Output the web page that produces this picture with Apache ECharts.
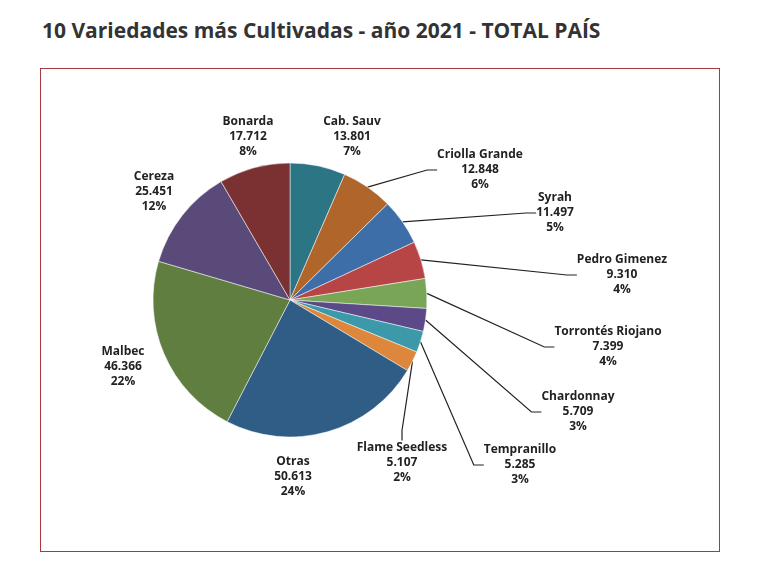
<!DOCTYPE html>
<html>
<head>
<meta charset="utf-8">
<script src="https://cdn.jsdelivr.net/npm/echarts@6/dist/echarts.min.js"></script>
<style>
body{margin:0;background:#fff;font-family:'Open Sans',sans-serif;}
#title{position:absolute;left:42px;top:16px;font:bold 21px 'Open Sans',sans-serif;color:#333;}
#frame{position:absolute;left:40px;top:68px;width:678px;height:482px;border:1.5px solid #a8383f;}
#main{position:absolute;left:0;top:0;width:770px;height:578px;}
</style>
</head>
<body>
<div id="title">10 Variedades más Cultivadas - año 2021 - TOTAL PAÍS</div>
<div id="frame"></div>
<div id="main"></div>
<script>
var names = ['Cab. Sauv','Criolla Grande','Syrah','Pedro Gimenez','Torrontés Riojano','Chardonnay','Tempranillo','Flame Seedless','Otras','Malbec','Cereza','Bonarda'];
var values = [13801,12848,11497,9310,7399,5709,5285,5107,50613,46366,25451,17712];
var percents = [7,6,5,4,4,3,3,2,24,22,12,8];
var colors = ['#2b7585','#b0652b','#3d6ea8','#b84545','#79a556','#5c4a88','#3b99a9','#dc873b','#2f5d85','#5f7e40','#5a4a79','#7b3131'];
var hasLine = [0,1,1,1,1,1,1,1,0,0,0,0];
// label block centres
var labelPos = [[352,137],[480,170],[555,213],[622,275],[608,347],[578,412],[520,465],[402,463],[293,477],[123,367],[154,192],[248,137]];

function fmt(v){return String(v).replace(/\B(?=(\d{3})+(?!\d))/g,'.');}

var myChart = echarts.init(document.getElementById('main'));
var data = names.map(function(n,i){
  return {name:n, value:values[i], pct:percents[i], itemStyle:{color:colors[i]},
    labelLine:{show:!!hasLine[i], length:10, length2:10, lineStyle:{color:'#222',width:1.2}}};
});
myChart.setOption({
  animation:false,
  series:[{
    type:'pie',
    center:[290,300],
    radius:137,
    startAngle:90,
    clockwise:true,
    data:data,
    itemStyle:{borderColor:'#fff',borderWidth:0.5},
    label:{
      formatter:function(p){return p.name+'\n'+fmt(p.value)+'\n'+p.data.pct+'%';},
      color:'#222',fontWeight:'bold',fontSize:12,lineHeight:15,
      fontFamily:'Open Sans',align:'center'
    },
    labelLayout:function(p){
      var q = labelPos[p.dataIndex];
      return {x:q[0], y:q[1], align:'center', verticalAlign:'middle'};
    }
  }]
});
</script>
</body>
</html>
